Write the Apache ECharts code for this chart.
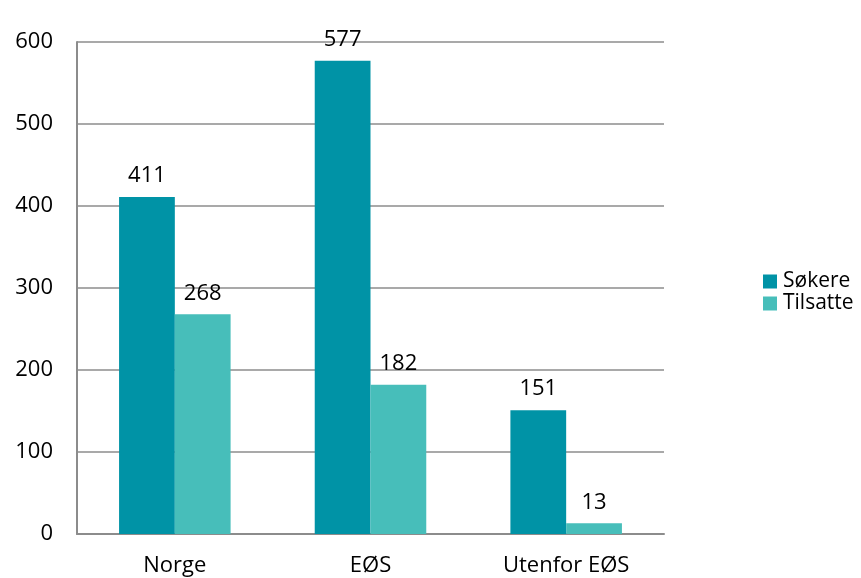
<!DOCTYPE html>
<html>
<head>
<meta charset="utf-8">
<script src="https://cdn.jsdelivr.net/npm/echarts@6/dist/echarts.min.js"></script>
<style>
  html, body { margin: 0; padding: 0; background: #fff; }
  #chart { width: 861px; height: 578px; }
</style>
</head>
<body>
<div id="chart"></div>
<script>
const categories = ['Norge', 'EØS', 'Utenfor EØS']
const sokere = [411, 577, 151]
const tilsatte = [268, 182, 13]
const seriesNames = ['Søkere', 'Tilsatte']

const chart = echarts.init(document.getElementById('chart'))
const font = '"Open Sans", sans-serif'

const labelStyle = {
  show: true,
  position: 'top',
  distance: 10,
  color: '#000',
  fontSize: 22,
  fontFamily: font
}

chart.setOption({
  animation: false,
  backgroundColor: '#fff',
  grid: { left: 77, right: 197, top: 42, bottom: 44 },
  legend: {
    orient: 'vertical',
    left: 758,
    top: 266,
    itemWidth: 14,
    itemHeight: 14,
    itemGap: 1,
    icon: 'rect',
    textStyle: { fontSize: 21, fontFamily: font, color: '#000', padding: [0, 0, 0, 1] },
    data: seriesNames
  },
  xAxis: {
    type: 'category',
    data: categories,
    axisLine: { lineStyle: { color: '#8c8c8c', width: 2 } },
    axisTick: { show: false },
    axisLabel: { color: '#000', fontSize: 22, fontFamily: font, margin: 21 }
  },
  yAxis: {
    type: 'value',
    min: 0,
    max: 600,
    interval: 100,
    axisLine: { show: true, lineStyle: { color: '#8c8c8c', width: 2 } },
    axisTick: { show: false },
    axisLabel: { color: '#000', fontSize: 22, fontFamily: font, margin: 24 },
    splitLine: { lineStyle: { color: '#8c8c8c', width: 1.5 } }
  },
  series: [
    {
      name: seriesNames[0],
      type: 'bar',
      data: sokere,
      barGap: '0%',
      barCategoryGap: '43%',
      itemStyle: { color: '#0093a6' },
      label: labelStyle
    },
    {
      name: seriesNames[1],
      type: 'bar',
      data: tilsatte,
      itemStyle: { color: '#47beba' },
      label: labelStyle
    }
  ]
})
</script>
</body>
</html>
